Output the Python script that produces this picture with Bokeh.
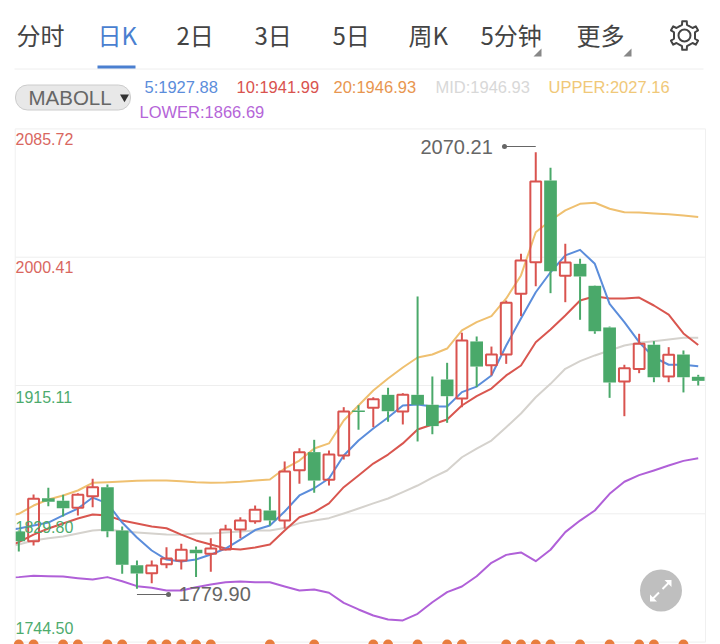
from bokeh.plotting import figure
from bokeh.models import Range1d
from bokeh.core.properties import value
from bokeh.embed import file_html
from bokeh.resources import INLINE
import math

opens = [1818.0,1811.6,1840.2,1838.5,1833.8,1841.5,1847.5,1818.7,1795.6,1790.3,1796.3,1798.8,1805.9,1803.2,1806.1,1819.4,1824.9,1832.0,1825.4,1858.8,1870.8,1852.4,1868.6,1898.5,1900.3,1908.9,1897.8,1908.9,1902.3,1919.1,1906.5,1944.4,1928.6,1935.7,1976.1,1997.1,2051.4,1988.1,1996.0,1981.4,1953.7,1917.8,1926.0,1942.2,1921.1,1935.7,1920.9]
closes = [1811.6,1839.8,1837.8,1833.5,1842.4,1847.5,1818.2,1795.9,1790.1,1795.4,1800.1,1805.9,1803.6,1806.7,1819.4,1825.4,1832.5,1825.4,1857.9,1870.8,1851.9,1869.2,1897.8,1897.5,1906.0,1898.0,1908.9,1902.3,1888.1,1908.0,1945.0,1927.7,1935.7,1970.1,1998.2,2050.8,1991.1,1996.9,1987.6,1951.2,1917.1,1926.6,1942.8,1920.6,1935.5,1920.6,1918.2]
highs = [1818.7,1842.6,1847.1,1842.4,1843.5,1853.1,1849.3,1821.4,1798.8,1798.8,1807.6,1809.9,1808.1,1813.6,1822.5,1827.5,1835.3,1841.3,1864.6,1873.4,1879.0,1871.9,1900.7,1902.0,1907.3,1913.6,1910.0,1974.3,1921.1,1930.2,1950.2,1947.7,1941.0,1971.6,2002.7,2070.21,2059.9,2009.3,1999.4,1981.6,1954.3,1928.9,1949.5,1944.6,1940.6,1938.4,1922.2]
lows = [1804.7,1808.7,1834.9,1828.0,1828.7,1834.2,1814.2,1789.9,1779.90,1783.7,1793.6,1792.8,1787.7,1791.2,1805.4,1813.6,1823.2,1822.0,1820.0,1849.8,1843.8,1848.6,1865.9,1885.7,1887.4,1891.0,1889.2,1877.9,1882.7,1890.3,1900.7,1914.0,1921.8,1929.5,1961.2,1981.1,1976.5,1970.5,1958.8,1949.5,1906.9,1894.7,1923.3,1917.3,1917.3,1910.5,1915.1]
# the line series start one bar left of the first visible candle; the frame cuts that bar off
ma5 = [1818.5,1820.0,1822.0,1824.0,1828.7,1833.3,1840.6,1836.7,1824.0,1814.0,1805.4,1799.4,1798.1,1799.4,1802.7,1806.7,1812.7,1819.0,1822.0,1831.3,1842.0,1846.8,1853.3,1868.6,1878.5,1886.5,1893.8,1901.8,1902.5,1901.2,1901.2,1910.7,1914.4,1921.8,1941.7,1959.7,1977.1,1990.4,2001.6,2005.3,1996.0,1969.4,1957.2,1943.9,1933.9,1928.9,1928.9,1927.88]
ma10 = [1807.5,1810.9,1816.0,1820.0,1823.4,1826.7,1829.3,1828.7,1825.3,1823.4,1821.4,1820.2,1816.0,1812.1,1809.4,1806.7,1806.1,1807.4,1809.4,1818.7,1827.5,1830.9,1836.7,1847.5,1855.3,1863.2,1869.2,1876.6,1885.9,1889.2,1892.5,1901.8,1908.0,1913.1,1921.8,1928.4,1943.9,1952.3,1961.7,1971.6,1974.5,1973.0,1973.0,1973.6,1968.3,1962.3,1949.7,1941.99]
mid = [1807.5,1809.4,1812.1,1813.6,1814.7,1816.7,1818.7,1819.4,1818.2,1817.4,1816.7,1816.0,1815.8,1816.7,1816.7,1817.4,1818.0,1818.7,1818.7,1820.4,1823.6,1825.3,1826.9,1830.0,1833.3,1836.7,1840.0,1844.2,1848.6,1853.9,1858.6,1867.4,1873.2,1878.5,1887.4,1896.5,1907.3,1916.2,1926.2,1931.3,1935.1,1938.4,1941.7,1943.5,1944.6,1945.7,1946.8,1946.93]
upper = [1827.5,1829.8,1835.3,1839.3,1842.0,1845.3,1850.4,1850.8,1851.3,1851.7,1851.9,1851.9,1851.5,1850.8,1850.4,1850.6,1851.1,1851.9,1852.6,1859.9,1865.2,1873.2,1876.6,1891.8,1901.8,1911.8,1919.8,1927.1,1933.7,1935.7,1939.7,1951.7,1957.2,1961.2,1973.0,1988.3,2017.0,2024.8,2031.5,2035.9,2036.6,2032.6,2030.3,2030.1,2029.5,2029.0,2028.1,2027.16]
lower = [1787.3,1787.7,1788.6,1788.3,1788.1,1787.0,1786.1,1787.7,1785.0,1781.7,1780.6,1778.8,1778.8,1781.0,1782.8,1784.3,1784.8,1784.3,1784.3,1781.5,1778.8,1779.5,1777.3,1770.6,1766.2,1762.2,1759.5,1758.9,1763.3,1771.0,1777.7,1781.5,1788.3,1797.2,1802.5,1804.1,1798.3,1805.9,1817.6,1825.3,1832.0,1843.1,1851.1,1855.5,1858.6,1861.9,1865.0,1866.69]
signal_idx = [0,1,3,4,6,7,9,10,11,12,13,17,20,24,25,27,29,30,33,34,35,36,38,40,42,43,45]
y_ticks = [2085.72,2000.41,1915.11,1829.80,1744.50]
y_tick_labels = ["2085.72","2000.41","1915.11","1829.80","1744.50"]
tabs = ["分时","日K","2日","3日","5日","周K","5分钟","更多"]
legend_texts = ["5:1927.88","10:1941.99","20:1946.93","MID:1946.93","UPPER:2027.16","LOWER:1866.69"]

RED, GREEN = "#d9534f", "#4aa96a"
W, H = 720, 644
X0, DX = 18.3, 14.77       # page px of candle 0, px per candle
PXU, Y1915 = 1.504, 385.0  # px per price unit, page px of 1915.11

def X(px):  # page px -> data x
    return (px - X0) / DX
def Y(py):  # page py -> data y
    return 1915.11 + (Y1915 - py) / PXU

p = figure(width=W, height=H, output_backend="svg", toolbar_location=None,
           x_range=Range1d(X(0), X(W)), y_range=Range1d(Y(H), Y(0)),
           x_axis_location=None, y_axis_location=None, min_border=0,
           outline_line_color=None, background_fill_color="white", border_fill_color="white")
p.grid.visible = False

def txt(px, py, s, color, size, font="Liberation Sans", align="left"):
    p.text([X(px)], [Y(py)], text=[s], text_color=color, text_font_size=f"{size}px",
           text_font=value(font), text_align=align, text_baseline="middle")

# frame and grid, under everything
p.segment([X(14.7)] * 5, y_ticks, [X(705)] * 5, y_ticks, line_color="#eeeeee", line_width=1)

# lines
xs = list(range(len(opens)))
line_xs = list(range(-1, len(opens)))
for series, c in [(mid, "#d5d2cd"), (upper, "#efc070"), (lower, "#b060d8"), (ma10, "#d9564f"), (ma5, "#5b8ddb")]:
    p.line(line_xs, series, line_color=c, line_width=2, line_join="round")

# candles
up = [i for i in xs if closes[i] >= opens[i]]
dn = [i for i in xs if closes[i] < opens[i]]
for idx, c in ((up, RED), (dn, GREEN)):
    p.segment(idx, [highs[i] for i in idx], idx, [max(opens[i], closes[i]) for i in idx], line_color=c, line_width=2)
    p.segment(idx, [min(opens[i], closes[i]) for i in idx], idx, [lows[i] for i in idx], line_color=c, line_width=2)
p.vbar(x=dn, width=12.7 / DX, top=[opens[i] for i in dn], bottom=[closes[i] for i in dn], fill_color=GREEN, line_color=None)
p.vbar(x=up, width=10.8 / DX, top=[closes[i] for i in up], bottom=[opens[i] for i in up], fill_color=None, line_color=RED, line_width=2)

# mask outside the chart frame on the left
p.quad(left=[X(0)], right=[X(14.7)], top=[Y(120)], bottom=[Y(H)], fill_color="white", line_color=None)
for xx in (14.7, 705):
    p.segment([X(xx)], [y_ticks[0]], [X(xx)], [y_ticks[-1]], line_color="#f0f0f0", line_width=1)

# header
CJK = "Noto Sans CJK SC"
tab_x = [16, 97, 176, 254, 332, 408, 480, 576]
for xx, s in zip(tab_x, tabs):
    txt(xx, 34, s, "#4a7fd0" if s == "日K" else "#444444", 24, CJK)
p.segment([X(14)], [Y(68.5)], [X(703)], [Y(68.5)], line_color="#eeeeee", line_width=1)
p.segment([X(97)], [Y(66.5)], [X(135)], [Y(66.5)], line_color="#4a7fd0", line_width=3)
for a in (533, 623):
    p.patch([X(a), X(a + 8), X(a + 8)], [Y(56), Y(56), Y(48)], fill_color="#888888", line_color=None)
# gear
gx, gy, pts = 684, 35, []
for k in range(6):
    c = math.radians(90 + 60 * k)
    for da, r in [(-30, 10.5), (-13, 11), (-9, 14.5), (9, 14.5), (13, 11)]:
        a = c + math.radians(da)
        pts.append((gx + r * math.cos(a), gy - r * math.sin(a)))
pts.append(pts[0])
p.line([X(q[0]) for q in pts], [Y(q[1]) for q in pts], line_color="#444444", line_width=2, line_join="round")
p.scatter([X(gx)], [Y(gy)], size=12, marker="circle", fill_color=None, line_color="#444444", line_width=2)

# indicator selector and legend
p.quad(left=[X(15)], right=[X(130)], top=[Y(84.5)], bottom=[Y(109.5)], fill_color="#e8e8e8",
       line_color="#cccccc", line_width=1, border_radius=12)
txt(28, 97, "MABOLL", "#666666", 20.5)
p.scatter([X(124)], [Y(96.5)], size=9, marker="inverted_triangle", fill_color="#333333", line_color=None)
legend_pos = [(144,86),(236,86),(333,86),(435,86),(548,86),(139,111)]
legend_col = ["#5b8ddb","#d9534f","#e8964f","#d8d8d8","#f0c878","#b565d8"]
for (lx, ly), s, c in zip(legend_pos, legend_texts, legend_col):
    txt(lx, ly, s, c, 16.5)

# tick labels
label_py = [138, 266, 396, 526, 627]
label_col = ["#d9675f", "#d9675f", "#4dab6d", "#4dab6d", "#4dab6d"]
for s, py, c in zip(y_tick_labels, label_py, label_col):
    txt(15, py, s, c, 16)

# extremes
hi_i, lo_i = highs.index(max(highs)), lows.index(min(lows))
txt(420, 146, f"{highs[hi_i]:.2f}", "#666666", 20)
p.segment([X(504)], [Y(146)], [hi_i], [Y(146)], line_color="#666666", line_width=1)
p.scatter([X(504)], [Y(146)], size=5, marker="circle", fill_color="#666666", line_color=None)
txt(178, 593, f"{lows[lo_i]:.2f}", "#666666", 20)
p.segment([lo_i], [Y(594)], [X(168)], [Y(594)], line_color="#666666", line_width=1)
p.scatter([X(168)], [Y(594)], size=5, marker="circle", fill_color="#666666", line_color=None)

# expand button
p.scatter([X(660.5)], [Y(590)], size=42, marker="circle", fill_color="#bfbfbf", line_color=None)
p.segment([X(651), X(662)], [Y(599.5), Y(588.5)], [X(658.5), X(669.5)], [Y(592), Y(581)], line_color="white", line_width=2)
p.patch([X(649.5), X(656.5), X(649.5)], [Y(601), Y(601), Y(594)], fill_color="white", line_color=None)
p.patch([X(671), X(664), X(671)], [Y(579.5), Y(579.5), Y(586.5)], fill_color="white", line_color=None)

# signal dots
p.scatter(signal_idx, [Y(644)] * len(signal_idx), size=10, marker="circle", fill_color="#e87d3e", line_color=None)

open("out.html", "w").write(file_html(p, INLINE))
